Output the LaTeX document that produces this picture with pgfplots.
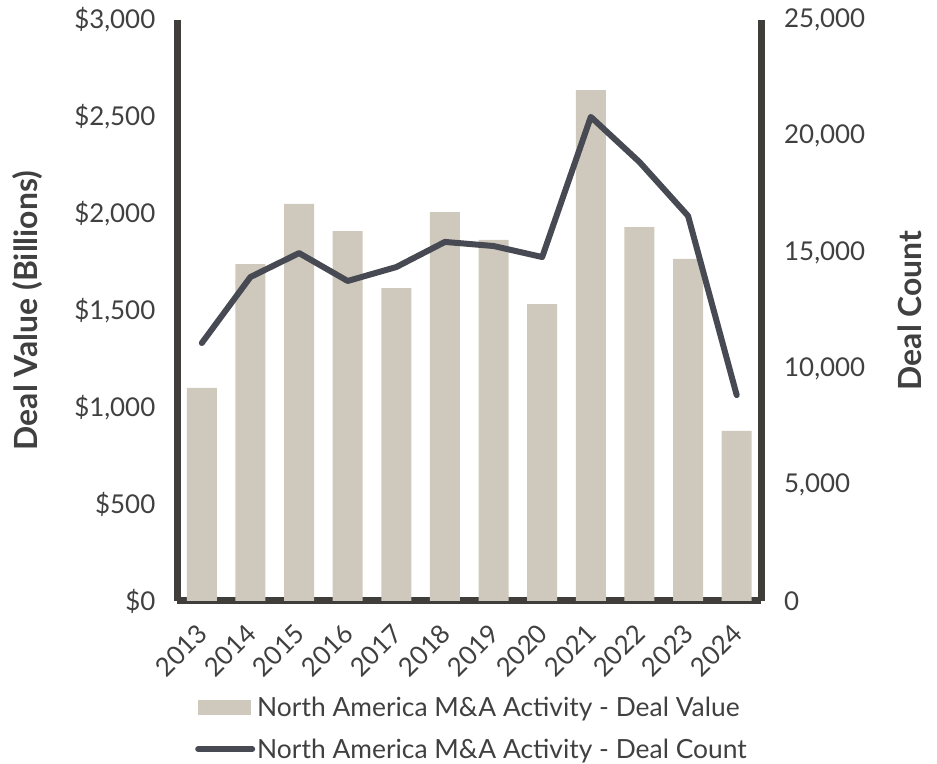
\documentclass[border=0pt]{standalone}
\usepackage{fontspec}
\setmainfont{Lato}
\usepackage{pgfplots}
\pgfplotsset{compat=1.18}
\definecolor{barc}{HTML}{CFC8BC}
\definecolor{linec}{HTML}{474A53}
\definecolor{axc}{HTML}{403E3A}
\definecolor{txt}{HTML}{404040}
\begin{document}
\begin{tikzpicture}[x=1bp,y=1bp]
\useasboundingbox (-177.5,-163) rectangle (759.5,601);
\begin{axis}[
  at={(0,0)}, anchor=south west, scale only axis,
  width=583.5bp, height=581bp,
  xmin=-0.5, xmax=11.5, ymin=0, ymax=3000,
  axis x line*=bottom, axis y line*=left,
  x axis line style={-}, y axis line style={-},
  axis line style={line width=7bp, color=axc, line cap=square},
  major tick length=0pt,
  xtick={0,...,11},
  xticklabels={2013,2014,2015,2016,2017,2018,2019,2020,2021,2022,2023,2024},
  ytick={0,500,...,3000},
  scaled y ticks=false,
  /pgf/number format/.cd, 1000 sep={,}, assume math mode=true, /pgfplots/.cd,
  yticklabel={\$\pgfmathprintnumber{\tick}},
  tick label style={font=\fontsize{26}{30}\selectfont, text=txt},
  yticklabel style={anchor=east, inner sep=0pt, xshift=-22bp},
  xticklabel style={xshift=1bp, yshift=-28bp, rotate=45, anchor=east, inner sep=0pt},
  ylabel={Deal Value (Billions)},
  ylabel style={at={(axis description cs:-0.2562,0.5)}, anchor=center, rotate=0,
    font=\bfseries\fontsize{32}{36}\selectfont, text=txt},
  clip=false,
]
\addplot[ybar, bar width=30bp, fill=barc, draw=none] coordinates {
 (0,1100) (1,1740) (2,2050) (3,1910) (4,1616) (5,2008)
 (6,1864) (7,1533) (8,2638) (9,1931) (10,1766) (11,878)};
\end{axis}
\begin{axis}[
  at={(0,0)}, anchor=south west, scale only axis,
  width=583.5bp, height=581bp,
  xmin=-0.5, xmax=11.5, ymin=0, ymax=25000,
  axis y line*=right, hide x axis,
  y axis line style={-},
  axis line style={line width=7bp, color=axc, line cap=square},
  major tick length=0pt,
  ytick={0,5000,...,25000},
  scaled y ticks=false,
  /pgf/number format/.cd, 1000 sep={,}, assume math mode=true, /pgfplots/.cd,
  tick label style={font=\fontsize{26}{30}\selectfont, text=txt},
  yticklabel style={anchor=west, inner sep=0pt, xshift=23bp},
  ylabel={Deal Count},
  ylabel style={at={(axis description cs:1.2554,0.5)}, anchor=center, rotate=0,
    font=\bfseries\fontsize{32}{36}\selectfont, text=txt},
  clip=false,
  legend style={at={(axis description cs:0.030,-0.161)}, anchor=north west,
    draw=none, fill=none, font=\fontsize{26.5}{30}\selectfont, text=txt,
    row sep=17bp, inner sep=0pt, nodes={inner sep=2bp}},
  legend cell align=left,
]
\addlegendimage{legend image code/.code={\fill[barc] (0bp,-7bp) rectangle (52bp,7bp);}}
\addlegendentry{North America M\&A Activity - Deal Value}
\addplot[color=linec, line width=6bp, line join=round, line cap=round,
  legend image code/.code={\draw[color=linec, line width=6bp, line cap=round] (0bp,0bp) -- (54bp,0bp);}]
  coordinates {
 (0,11100) (1,13940) (2,14970) (3,13770) (4,14370) (5,15450)
 (6,15275) (7,14800) (8,20830) (9,18890) (10,16570) (11,8860)};
\addlegendentry{North America M\&A Activity - Deal Count}
\end{axis}
\end{tikzpicture}
\end{document}
